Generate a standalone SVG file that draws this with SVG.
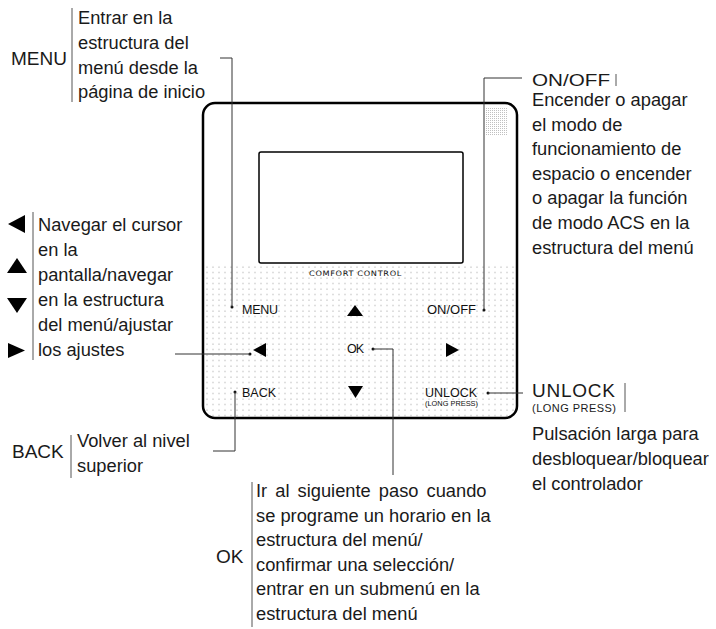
<svg xmlns="http://www.w3.org/2000/svg" width="716" height="629" viewBox="0 0 716 629">
<style>
.t{font-family:"Liberation Sans",Arial,sans-serif;fill:#1a1a1a;font-size:18.3px}
.big{font-family:"Liberation Sans",Arial,sans-serif;fill:#1a1a1a;font-size:19px}
.btn{font-family:"Liberation Sans",Arial,sans-serif;fill:#111;font-size:12.5px}
.sep{stroke:#555;stroke-width:1;fill:none}
.con{stroke:#333;stroke-width:1;fill:none}
.tri{fill:#000}
</style>
<defs>
<pattern id="dots" width="6" height="5.5" patternUnits="userSpaceOnUse" x="1" y="1">
<circle cx="2" cy="2" r="0.7" fill="#b0b0b0"/>
</pattern>
<pattern id="dense" width="2" height="2" patternUnits="userSpaceOnUse">
<rect x="0" y="0" width="1" height="1" fill="#c0c0c0"/>
</pattern>
<clipPath id="dev"><rect x="204" y="104" width="312" height="313" rx="11"/></clipPath>
</defs>

<g id="device">
<rect x="205" y="264" width="310" height="153" fill="url(#dots)" clip-path="url(#dev)"/>
<rect x="486" y="108" width="22" height="27" fill="url(#dense)"/>
<rect x="203" y="103" width="314" height="315" rx="12" fill="none" stroke="#000" stroke-width="2.5"/>
<rect x="259" y="152" width="204" height="111" rx="2" fill="none" stroke="#000" stroke-width="1.5"/>
<text x="309" y="276" textLength="93" lengthAdjust="spacingAndGlyphs" style="font-family:'DejaVu Sans',sans-serif;font-size:7.5px;fill:#111;letter-spacing:0.6px">COMFORT  CONTROL</text>
</g>

<g id="btn-menu"><text class="btn" x="242" y="314" textLength="36">MENU</text></g>
<g id="btn-up"><polygon class="tri" points="347,316 363,316 355,305"/></g>
<g id="btn-onoff"><text class="btn" x="427" y="314" textLength="49" lengthAdjust="spacingAndGlyphs">ON/OFF</text></g>
<g id="btn-left"><polygon class="tri" points="253,350 266,343 266,357"/></g>
<g id="btn-ok"><text class="btn" x="347" y="353" textLength="17">OK</text></g>
<g id="btn-right"><polygon class="tri" points="446,343 446,357 459,350"/></g>
<g id="btn-back"><text class="btn" x="242" y="397" textLength="34">BACK</text></g>
<g id="btn-down"><polygon class="tri" points="348,386 363,386 355.5,398"/></g>
<g id="btn-unlock">
<text class="btn" x="425" y="397" textLength="52">UNLOCK</text>
<text class="btn" x="425" y="406" style="font-size:7.4px" textLength="53">(LONG PRESS)</text>
</g>

<g id="connectors">
<circle cx="232" cy="307" r="1.5" fill="#111"/>
<polyline class="con" points="232,307 232,58 220,58"/>
<circle cx="484" cy="310" r="1.5" fill="#111"/>
<polyline class="con" points="484,310 484,78 522,78"/>
<circle cx="250" cy="354" r="1.5" fill="#111"/>
<polyline class="con" points="250,354 175,354"/>
<circle cx="373" cy="349" r="1.5" fill="#111"/>
<polyline class="con" points="373,349 393,349 393,475"/>
<circle cx="235" cy="392" r="1.5" fill="#111"/>
<polyline class="con" points="235,392 235,451 213,451"/>
<circle cx="488" cy="393" r="1.5" fill="#111"/>
<polyline class="con" points="488,393 523,393"/>
</g>

<g id="label-menu">
<text class="big" x="11" y="65">MENU</text>
<line class="sep" x1="72" y1="8" x2="72" y2="102"/>
<text class="t" x="78" y="24">Entrar en la</text>
<text class="t" x="78" y="49">estructura del</text>
<text class="t" x="78" y="74">menú desde la</text>
<text class="t" x="78" y="98">página de inicio</text>
</g>

<g id="label-nav">
<polygon class="tri" points="8,224 25,215 25,233"/>
<polygon class="tri" points="7,273 27,273 17,258"/>
<polygon class="tri" points="7,298 27,298 17,313"/>
<polygon class="tri" points="8,343 8,358 25,350.5"/>
<line class="sep" x1="33" y1="212" x2="33" y2="360"/>
<text class="t" x="38" y="231">Navegar el cursor</text>
<text class="t" x="38" y="256">en la</text>
<text class="t" x="38" y="281">pantalla/navegar</text>
<text class="t" x="38" y="306">en la estructura</text>
<text class="t" x="38" y="331">del menú/ajustar</text>
<text class="t" x="38" y="356">los ajustes</text>
</g>

<g id="label-onoff">
<text class="big" x="532" y="86" style="font-size:17px" textLength="78" lengthAdjust="spacingAndGlyphs">ON/OFF</text>
<line class="sep" x1="616" y1="74" x2="616" y2="86"/>
<text class="t" x="532" y="106">Encender o apagar</text>
<text class="t" x="532" y="131">el modo de</text>
<text class="t" x="532" y="155">funcionamiento de</text>
<text class="t" x="532" y="180">espacio o encender</text>
<text class="t" x="532" y="204">o apagar la función</text>
<text class="t" x="532" y="229">de modo ACS en la</text>
<text class="t" x="532" y="254">estructura del menú</text>
</g>

<g id="label-unlock">
<text class="big" x="532" y="397" textLength="83">UNLOCK</text>
<text class="t" x="532" y="412" style="font-size:11px" textLength="84">(LONG PRESS)</text>
<line class="sep" x1="625" y1="383" x2="625" y2="412"/>
<text class="t" x="532" y="440">Pulsación larga para</text>
<text class="t" x="532" y="465">desbloquear/bloquear</text>
<text class="t" x="532" y="490">el controlador</text>
</g>

<g id="label-back">
<text class="big" x="12" y="458">BACK</text>
<line class="sep" x1="71" y1="435" x2="71" y2="478"/>
<text class="t" x="77" y="447">Volver al nivel</text>
<text class="t" x="77" y="472">superior</text>
</g>

<g id="label-ok">
<text class="big" x="216" y="563">OK</text>
<line class="sep" x1="252" y1="482" x2="252" y2="627"/>
<text class="t" x="256" y="497" style="word-spacing:3px">Ir al siguiente paso cuando</text>
<text class="t" x="256" y="521.5">se programe un horario en la</text>
<text class="t" x="256" y="546">estructura del menú/</text>
<text class="t" x="256" y="570.5">confirmar una selección/</text>
<text class="t" x="256" y="595">entrar en un submenú en la</text>
<text class="t" x="256" y="619.5">estructura del menú</text>
</g>
</svg>
